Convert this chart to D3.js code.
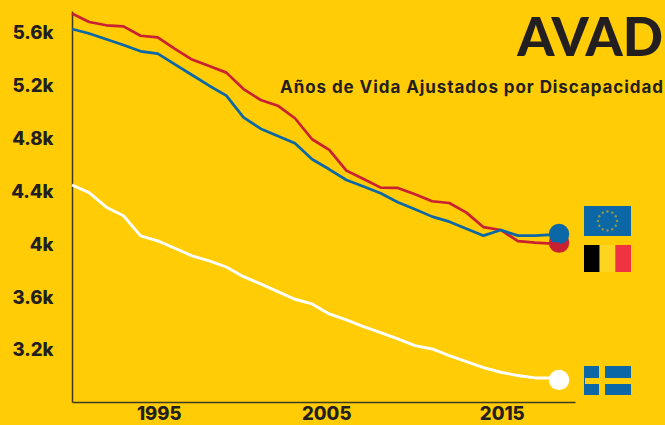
<!DOCTYPE html>
<html><head><meta charset="utf-8">
<script src="https://cdn.jsdelivr.net/npm/d3@7/dist/d3.min.js"></script>
<style>
html,body{margin:0;padding:0;background:#FFCC05;overflow:hidden}
svg{display:block}
text{font-family:Inter,sans-serif;font-weight:800;fill:#231f20}
</style></head><body>
<script>
const years = [1990,1991,1992,1993,1994,1995,1996,1997,1998,1999,2000,2001,2002,2003,2004,2005,2006,2007,2008,2009,2010,2011,2012,2013,2014,2015,2016,2017,2018,2018.4];
const belgium = [5745,5681,5656,5648,5577,5565,5477,5397,5348,5298,5174,5091,5048,4953,4794,4713,4557,4494,4428,4426,4378,4325,4312,4239,4129,4108,4023,4012,4005,4003];
const europe = [5628,5594,5550,5507,5459,5441,5361,5280,5199,5124,4959,4874,4819,4764,4643,4567,4486,4436,4386,4318,4265,4209,4171,4118,4065,4108,4065,4065,4073,4078];
const sweden = [4448,4390,4280,4216,4063,4025,3970,3912,3874,3828,3755,3700,3642,3584,3549,3473,3428,3377,3332,3284,3233,3208,3158,3112,3067,3032,3007,2989,2989,2989];
const markerYear = 2018.4;
const belgiumEnd = 4012, europeEnd = 4078, swedenEnd = 2974;
const yTicks = [3200,3600,4000,4400,4800,5200,5600];
const xTicks = [1995,2005,2015];
const title = "AVAD";
const subtitle = "Años de Vida Ajustados por Discapacidad";

const W=665,H=425;
const BLUE="#0b67a6",RED="#c92032",WHITE="#ffffff",BG="#FFCC05";
const svg=d3.select("body").append("svg").attr("width",W).attr("height",H);
svg.append("rect").attr("width",W).attr("height",H).attr("fill",BG);

const x=d3.scaleLinear().domain([1990,2019.33]).range([72,575]);
const y=d3.scaleLinear().domain([2807,5764]).range([402,11]);

const fmt=d3.format("~s");
const gy=svg.append("g").attr("transform","translate(72,0)")
  .call(d3.axisLeft(y).tickValues(yTicks).tickFormat(fmt).tickSize(0).tickPadding(18.5));
const gx=svg.append("g").attr("transform","translate(0,402)")
  .call(d3.axisBottom(x).tickValues(xTicks).tickFormat(d3.format("d")).tickSize(0).tickPadding(5));
[gx,gy].forEach(g=>{
  g.select(".domain").attr("stroke","#3d3a28").attr("stroke-width",1.5);
  g.selectAll("text").style("font-family","Inter,sans-serif").style("font-weight",800).style("font-size","18.5px").attr("fill","#231f20");
});
gx.selectAll("text").attr("dx",d=>d===2005?-3:1);

const line=d3.line().x((d,i)=>x(years[i])).y(d=>y(d));
const dot=(v,c)=>svg.append("circle").attr("cx",x(markerYear)).attr("cy",y(v)).attr("r",10.2).attr("fill",c);
const path=(s,c,w)=>svg.append("path").datum(s).attr("d",line).attr("fill","none").attr("stroke",c).attr("stroke-width",w).attr("stroke-linejoin","round");
dot(belgiumEnd,RED);
dot(europeEnd,BLUE);
path(belgium,RED,2.7);
path(europe,BLUE,2.7);
path(sweden,WHITE,2.9);
dot(swedenEnd,WHITE);

svg.append("text").attr("x",663).attr("y",56).attr("text-anchor","end").style("font-family","Lato,sans-serif").style("font-weight",900).style("font-size","53px").text(title);
svg.append("text").attr("x",663).attr("y",93).attr("text-anchor","end").style("font-size","17px").style("font-weight",700)
  .attr("textLength",383).text(subtitle);

// flags
const fx=584,fw=47;
const eu=svg.append("g");
eu.append("rect").attr("x",fx).attr("y",206).attr("width",fw).attr("height",30).attr("fill",BLUE);
d3.range(12).forEach(i=>{const a=i*Math.PI/6;
  eu.append("circle").attr("cx",607.5+9.5*Math.sin(a)).attr("cy",221-9.5*Math.cos(a)).attr("r",1.2).attr("fill","#8f9a4a");});
const be=svg.append("g");
["#000000","#fdd420","#ef3340"].forEach((c,i)=>be.append("rect").attr("x",fx+i*fw/3).attr("y",245).attr("width",fw/3).attr("height",27).attr("fill",c));
const se=svg.append("g");
se.append("rect").attr("x",fx).attr("y",366).attr("width",fw).attr("height",29).attr("fill",BLUE);
se.append("rect").attr("x",599).attr("y",366).attr("width",6).attr("height",29).attr("fill",BG);
se.append("rect").attr("x",585).attr("y",378).attr("width",46).attr("height",6).attr("fill",BG);
</script>
</body></html>
